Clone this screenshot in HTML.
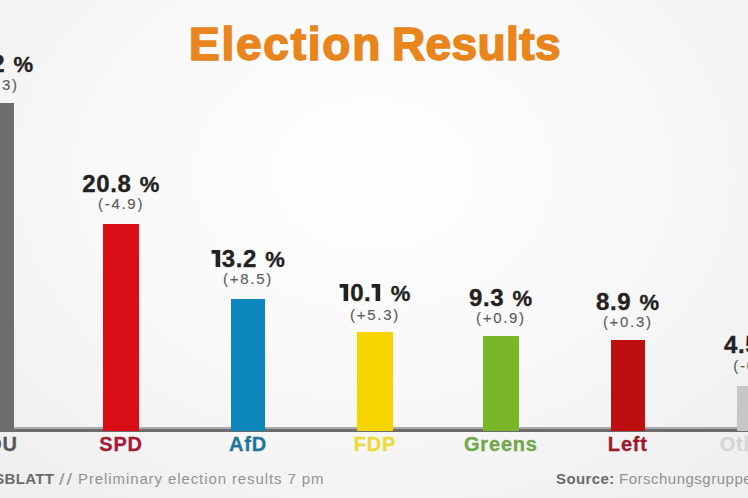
<!DOCTYPE html>
<html><head><meta charset="utf-8"><style>
html,body{margin:0;padding:0;}
body{width:748px;height:498px;overflow:hidden;position:relative;font-family:"Liberation Sans",sans-serif;
background:radial-gradient(ellipse 70% 80% at 50% 35%, #fefefe 0%, #f9f9f9 50%, #efefef 100%);}
.title{position:absolute;top:18.3px;white-space:nowrap;font-weight:bold;font-size:46px;line-height:52px;color:#e8851c;-webkit-text-stroke:1.6px #e8851c;}
.bar{position:absolute;}
.axis1{position:absolute;left:0;width:748px;top:427px;height:2px;background:#ababab;}
.axis2{position:absolute;left:0;width:748px;top:429px;height:3px;background:#6c6c6c;}
.pct,.chg,.name{position:absolute;width:200px;text-align:center;white-space:nowrap;}
.pct{font-weight:bold;font-size:24px;line-height:26px;color:#222;letter-spacing:0.6px;-webkit-text-stroke:0.35px #222;}
.pct .one{vertical-align:baseline;margin:0 1.2px 0 0;}
.pct u{text-decoration:none;font-size:22px;margin-left:1px;}
.chg{font-size:15px;line-height:16px;color:#5c5c5c;letter-spacing:1.7px;-webkit-text-stroke:0.15px #5c5c5c;}
.name{top:433px;font-weight:bold;font-size:20px;line-height:22px;letter-spacing:0.8px;-webkit-text-stroke:0.3px currentColor;}
.foot{position:absolute;top:469.5px;font-size:15px;line-height:18px;color:#929292;white-space:nowrap;letter-spacing:0.8px;}
</style></head><body>
<div class="title" style="left:189px;letter-spacing:1.76px">Election</div><div class="title" style="left:392px;letter-spacing:0.4px">Results</div>
<div class="axis1"></div><div class="axis2"></div>
<div class="bar" style="left:-21.3px;width:35.0px;top:103px;height:328.0px;background:#6e6e6e"></div><div class="pct" style="left:-105.2px;top:51.3px">33.2 <u>%</u></div><div class="chg" style="left:-104.2px;top:77.4px">(-8.3)</div><div class="name" style="left:-105.2px;color:#575757">CDU</div><div class="bar" style="left:103.2px;width:35.8px;top:223.8px;height:207.2px;background:#d90d16"></div><div class="pct" style="left:21.1px;top:170.8px">20.8 <u>%</u></div><div class="chg" style="left:21.1px;top:196.2px">(-4.9)</div><div class="name" style="left:21.1px;color:#a31c35">SPD</div><div class="bar" style="left:231.2px;width:33.6px;top:298.8px;height:132.2px;background:#0c86bd"></div><div class="pct" style="left:148.0px;top:245.9px"><svg class="one" width="10" height="17" viewBox="0 0 10 17"><path d="M0.6 0H9.2V17H4.6V3.7H0.6Z" fill="#222"/></svg>3.2 <u>%</u></div><div class="chg" style="left:148.0px;top:271.3px">(+8.5)</div><div class="name" style="left:148.0px;color:#1f7599">AfD</div><div class="bar" style="left:357.2px;width:35.7px;top:331.5px;height:99.5px;background:#f5d400"></div><div class="pct" style="left:275.0px;top:279.7px"><svg class="one" width="10" height="17" viewBox="0 0 10 17"><path d="M0.6 0H9.2V17H4.6V3.7H0.6Z" fill="#222"/></svg>0.<svg class="one" width="10" height="17" viewBox="0 0 10 17"><path d="M0.6 0H9.2V17H4.6V3.7H0.6Z" fill="#222"/></svg> <u>%</u></div><div class="chg" style="left:275.0px;top:307.1px">(+5.3)</div><div class="name" style="left:275.0px;color:#ecda3a">FDP</div><div class="bar" style="left:483.0px;width:35.9px;top:336.3px;height:94.7px;background:#79b62a"></div><div class="pct" style="left:400.9px;top:284.7px">9.3 <u>%</u></div><div class="chg" style="left:400.9px;top:310.1px">(+0.9)</div><div class="name" style="left:400.9px;color:#72a64a">Greens</div><div class="bar" style="left:610.7px;width:34.1px;top:340.0px;height:91.0px;background:#bd0f10"></div><div class="pct" style="left:527.8px;top:289.3px">8.9 <u>%</u></div><div class="chg" style="left:527.8px;top:314.1px">(+0.3)</div><div class="name" style="left:527.8px;color:#9e1a2b">Left</div><div class="bar" style="left:736.6px;width:35.4px;top:385.8px;height:45.2px;background:#c7c7c7"></div><div class="pct" style="left:655.8px;top:332.3px">4.5 <u>%</u></div><div class="chg" style="left:656.3px;top:357.8px">(-0.9)</div><div class="name" style="left:654.3px;color:#d6d6d6">Others</div>
<div class="foot" style="left:-70px;color:#6a6a6a;font-weight:bold;letter-spacing:0.3px">HANDELSBLATT</div>
<div class="foot" style="left:59px;letter-spacing:1.5px;font-size:16px;top:470.5px;transform:scaleX(1.25);transform-origin:0 0">//</div>
<div class="foot" style="left:78px;letter-spacing:0.9px">Preliminary election results 7 pm</div>
<div class="foot" style="left:556px;color:#6a6a6a;font-weight:bold;letter-spacing:0.4px">Source:</div>
<div class="foot" style="left:619px;letter-spacing:0.5px">Forschungsgruppe Wahlen</div>
</body></html>
